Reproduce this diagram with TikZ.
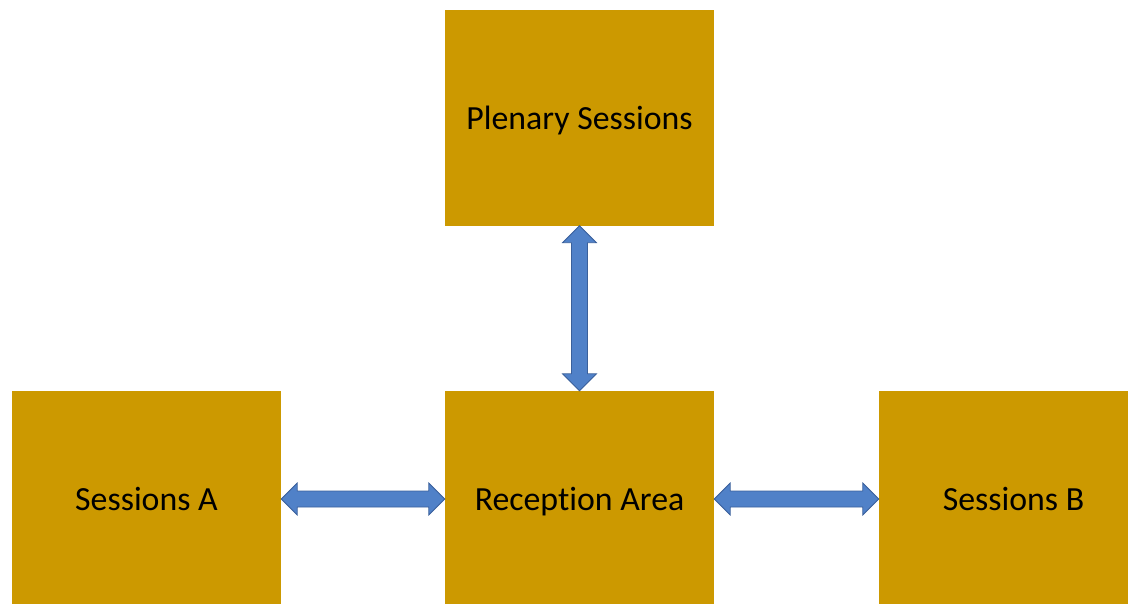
\documentclass[tikz,border=0pt]{standalone}
\usepackage{fontspec}
\setmainfont{Carlito}[Ligatures=NoCommon]
\usetikzlibrary{calc}
\definecolor{gold}{RGB}{204,153,0}
\definecolor{arrfill}{RGB}{80,129,200}
\definecolor{arrdraw}{RGB}{58,96,155}
\begin{document}
\begin{tikzpicture}[x=1pt,y=-1pt,
  room/.style={fill=gold,draw=none,minimum width=269pt,minimum height=216pt,inner sep=0pt,
    font=\fontsize{33.8}{40}\selectfont,text=black,text depth=0pt},
  barrow/.style={fill=arrfill,draw=arrdraw,line width=0.8pt,line join=miter}]
\useasboundingbox (0,0) rectangle (1128,603);
\node[room] (pl) at (579.5,117.5) {Plenary Sessions};
\node[room] (sa) at (146.5,499) {Sessions A};
\node[room] (rc) at (579.5,499) {Reception Area};
\node[room] (sb) at (1013.5,499) {Sessions B};
% vertical
\draw[barrow] (pl.south) -- ++(17,17) -- ++(-9,0) -- ($(rc.north)+(8,-17)$) -- ++(9,0) -- (rc.north)
  -- ++(-17,-17) -- ++(9,0) -- ($(pl.south)+(-8,17)$) -- ++(-9,0) -- cycle;
% left
\draw[barrow] (sa.east) -- ++(16,-16) -- ++(0,8) -- ($(rc.west)+(-16,-8)$) -- ++(0,-8) -- (rc.west)
  -- ++(-16,16) -- ++(0,-8) -- ($(sa.east)+(16,8)$) -- ++(0,8) -- cycle;
% right
\draw[barrow] (rc.east) -- ++(16,-16) -- ++(0,8) -- ($(sb.west)+(-16,-8)$) -- ++(0,-8) -- (sb.west)
  -- ++(-16,16) -- ++(0,-8) -- ($(rc.east)+(16,8)$) -- ++(0,8) -- cycle;
\end{tikzpicture}
\end{document}
